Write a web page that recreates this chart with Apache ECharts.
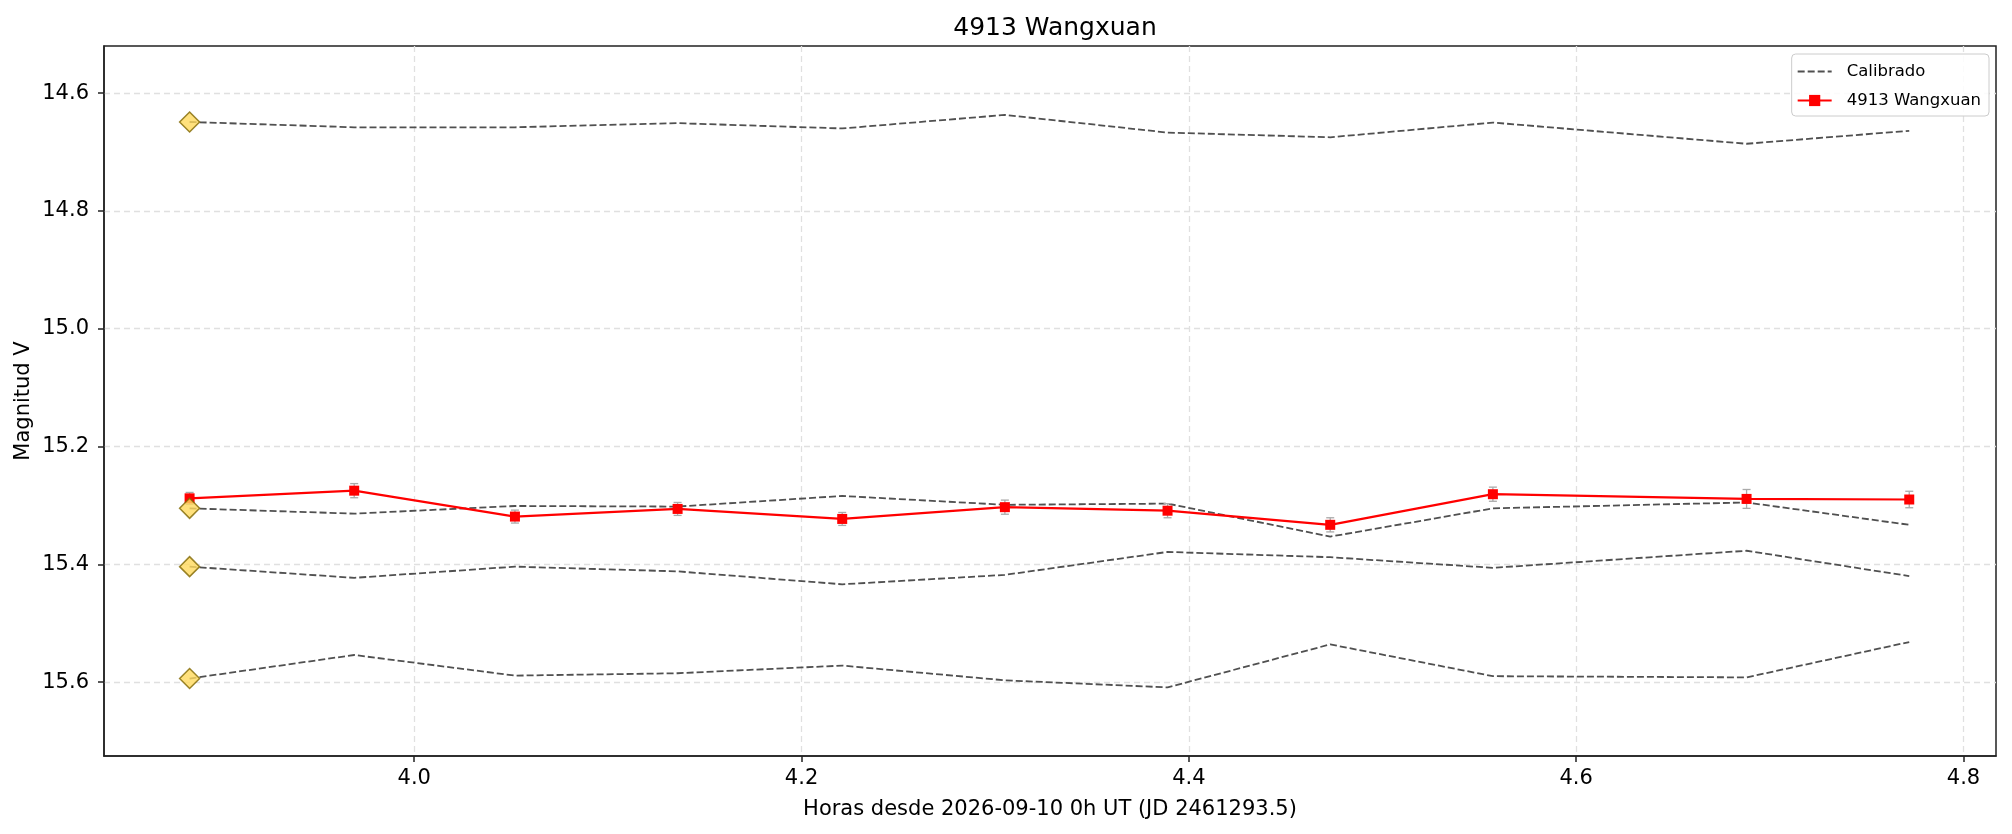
<!DOCTYPE html>
<html>
<head>
<meta charset="utf-8">
<title>4913 Wangxuan</title>
<script src="https://cdn.jsdelivr.net/npm/echarts@6/dist/echarts.min.js"></script>
<style>
  html, body { margin: 0; padding: 0; background: #fff; }
  #chart { width: 2012px; height: 834px; }
</style>
</head>
<body>
<div id="chart"></div>
<script>
// hours since 2026-09-10 0h UT
var hours = [3.884, 3.969, 4.052, 4.136, 4.221, 4.305, 4.389, 4.473, 4.557, 4.688, 4.772];

// calibrated comparison stars (magnitude V)
var cal1 = [14.649, 14.658, 14.658, 14.651, 14.660, 14.637, 14.667, 14.675, 14.650, 14.686, 14.664];
var cal2 = [15.305, 15.314, 15.301, 15.302, 15.284, 15.299, 15.297, 15.353, 15.305, 15.295, 15.333];
var cal3 = [15.404, 15.423, 15.404, 15.412, 15.434, 15.418, 15.379, 15.388, 15.406, 15.377, 15.420];
var cal4 = [15.594, 15.554, 15.589, 15.585, 15.572, 15.597, 15.609, 15.536, 15.590, 15.592, 15.532];

// target asteroid
var targetMag = [15.288, 15.275, 15.319, 15.306, 15.323, 15.303, 15.309, 15.333, 15.281, 15.289, 15.290];
var targetErr = [0.010, 0.012, 0.011, 0.011, 0.011, 0.012, 0.012, 0.012, 0.012, 0.016, 0.014];

var xTicks = [4.0, 4.2, 4.4, 4.6, 4.8];
var yTicks = [14.6, 14.8, 15.0, 15.2, 15.4, 15.6];

var FONT = 'DejaVu Sans';

function pairs(ys) {
    var out = [];
    for (var i in ys)
        out.push([hours[i], ys[i]]);
    return out;
}

function calSeries(ys) {
    return {
        name: 'Calibrado',
        type: 'line',
        data: pairs(ys),
        symbol: 'none',
        // transparent so the legend shows only the dashed line
        itemStyle: { color: 'rgba(0,0,0,0)' },
        lineStyle: { color: '#505050', width: 1.8, type: [7, 3] },
        z: 2
    };
}

var calLines = [cal1, cal2, cal3, cal4];
// reference markers sit on the first point of each comparison star
var refPoints = calLines.map(function (c) { return [hours[0], c[0]]; });

var errData = hours.map(function (h, i) {
    return [h, targetMag[i] - targetErr[i], targetMag[i] + targetErr[i]];
});

var chart = echarts.init(document.getElementById('chart'));

var option = {
    animation: false,
    backgroundColor: '#ffffff',
    textStyle: { fontFamily: FONT },
    title: {
        text: '4913 Wangxuan',
        left: 1050,
        textAlign: 'center',
        top: 11,
        textStyle: { fontFamily: FONT, fontSize: 25, fontWeight: 'normal', color: '#000' }
    },
    legend: {
        data: ['Calibrado', '4913 Wangxuan'],
        orient: 'vertical',
        right: 23,
        top: 54,
        itemWidth: 34,
        itemHeight: 14,
        itemGap: 12,
        padding: [9, 8, 7, 5],
        backgroundColor: 'rgba(255,255,255,0.85)',
        borderColor: '#cccccc',
        borderWidth: 1,
        borderRadius: 4,
        textStyle: { fontFamily: FONT, fontSize: 16.5, color: '#000', padding: [0, 0, 0, 10] }
    },
    grid: {
        left: 104,
        right: 16,
        top: 46,
        bottom: 78,
        show: true,
        borderColor: '#222',
        borderWidth: 1.5,
        backgroundColor: '#fff'
    },
    xAxis: {
        type: 'value',
        min: 3.8398,
        max: 4.8168,
        name: 'Horas desde 2026-09-10 0h UT (JD 2461293.5)',
        nameLocation: 'middle',
        nameGap: 43,
        nameMoveOverlap: false,
        nameTextStyle: { fontFamily: FONT, fontSize: 21, color: '#000' },
        axisLine: { show: true, lineStyle: { color: '#222', width: 1.5 } },
        axisTick: { show: true, length: 6, lineStyle: { color: '#222', width: 1.5 }, customValues: xTicks },
        axisLabel: {
            customValues: xTicks,
            margin: 12,
            fontFamily: FONT, fontSize: 21, color: '#000',
            formatter: function (v) { return v.toFixed(1); }
        },
        splitLine: { show: true, lineStyle: { color: '#e0e0e0', width: 1.3, type: [6, 4] } }
    },
    yAxis: {
        type: 'value',
        inverse: true,
        min: 14.52,
        max: 15.7255,
        name: 'Magnitud V',
        nameLocation: 'middle',
        nameGap: 70,
        nameMoveOverlap: false,
        nameTextStyle: { fontFamily: FONT, fontSize: 21, color: '#000' },
        axisLine: { show: true, lineStyle: { color: '#222', width: 1.5 } },
        axisTick: { show: true, length: 6, lineStyle: { color: '#222', width: 1.5 }, customValues: yTicks },
        axisLabel: {
            customValues: yTicks,
            margin: 15,
            fontFamily: FONT, fontSize: 21, color: '#000',
            formatter: function (v) { return v.toFixed(1); }
        },
        splitLine: { show: true, lineStyle: { color: '#e0e0e0', width: 1.3, type: [6, 4] } }
    },
    series: calLines.map(calSeries).concat([
        {
            name: 'errores',
            type: 'custom',
            data: errData,
            encode: { x: 0, y: [1, 2] },
            z: 3,
            renderItem: function (params, api) {
                var lo = api.coord([api.value(0), api.value(1)]);
                var hi = api.coord([api.value(0), api.value(2)]);
                var w = 4;
                var st = { stroke: '#aaaaaa', lineWidth: 1.3 };
                return {
                    type: 'group',
                    children: [
                        { type: 'line', shape: { x1: lo[0], y1: lo[1], x2: hi[0], y2: hi[1] }, style: st },
                        { type: 'line', shape: { x1: lo[0] - w, y1: lo[1], x2: lo[0] + w, y2: lo[1] }, style: st },
                        { type: 'line', shape: { x1: hi[0] - w, y1: hi[1], x2: hi[0] + w, y2: hi[1] }, style: st }
                    ]
                };
            }
        },
        {
            name: '4913 Wangxuan',
            type: 'line',
            data: pairs(targetMag),
            symbol: 'rect',
            symbolSize: 10,
            itemStyle: { color: '#ff0000' },
            lineStyle: { color: '#ff0000', width: 2.2 },
            z: 4
        },
        {
            name: 'referencia',
            type: 'scatter',
            data: refPoints,
            symbol: 'diamond',
            symbolSize: [20, 20],
            itemStyle: { color: '#ffd95c', borderColor: '#806600', borderWidth: 1.5 },
            z: 5
        }
    ])
};

chart.setOption(option);
</script>
</body>
</html>
